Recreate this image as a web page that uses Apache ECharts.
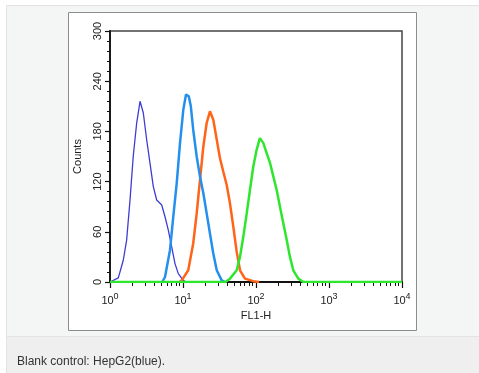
<!DOCTYPE html>
<html>
<head>
<meta charset="utf-8">
<script src="https://cdn.jsdelivr.net/npm/echarts@6/dist/echarts.min.js"></script>
<style>
html,body{margin:0;padding:0;background:#fff;}
#c{width:479px;height:373px;}
</style>
</head>
<body>
<div id="c"></div>
<script>
// ---- data ----
const xMajorTicks = [1, 10, 100, 1000, 10000];
const xMinorTicks = [2,3,4,5,6,7,8,9,20,30,40,50,60,70,80,90,200,300,400,500,600,700,800,900,2000,3000,4000,5000,6000,7000,8000,9000];

const darkBlueX = [1, 1.05, 1.3, 1.52, 1.69, 1.88, 2.08, 2.32, 2.58, 2.86, 3.18, 3.53, 3.92, 4.36, 5.11, 5.67, 6.29, 7.0, 7.77, 8.62, 10.1, 11];
const darkBlueY = [0, 0, 5, 26, 50, 98, 150, 190, 216, 202, 170, 142, 114, 98, 92, 78, 62, 42, 22, 10, 2, 0];

const lightBlueX = [5.2, 5.67, 6.63, 7.36, 8.2, 9.1, 10.1, 11.0, 12.0, 12.8, 13.8, 15.4, 17.1, 19.0, 21.1, 23.4, 26.0, 29.0, 33.9, 37.6];
const lightBlueY = [0, 6, 38, 78, 118, 166, 206, 224, 222, 210, 182, 150, 126, 106, 82, 58, 34, 14, 2, 0];

const orangeX = [9.0, 9.6, 11.8, 13.8, 15.4, 17.1, 19.0, 21.1, 23.4, 26.0, 29.0, 32.1, 35.6, 39.7, 44.0, 48.9, 54.4, 60.4, 70.6, 91.8, 110];
const orangeY = [0, 2, 14, 46, 82, 122, 162, 190, 204, 194, 170, 148, 132, 116, 94, 66, 36, 14, 4, 1, 0];

const greenX = [1, 38, 44, 54.4, 60.4, 67, 74.6, 82.7, 91.8, 102, 113, 126, 140, 156, 173, 192, 213, 237, 264, 292, 324, 380, 444, 10000];
const greenY = [0, 0, 4, 14, 30, 54, 82, 110, 138, 158, 172, 166, 154, 142, 126, 110, 90, 70, 50, 30, 14, 4, 0, 0];

const yTicks = [0, 60, 120, 180, 240, 300];
const captionText = 'Blank control: HepG2(blue).';
const xName = 'FL1-H';
const yName = 'Counts';

function pairs(xs, ys) { return xs.map((x, i) => [x, ys[i]]); }

const FONT = 'Liberation Sans, Arial, sans-serif';
const chart = echarts.init(document.getElementById('c'), null, {renderer: 'canvas'});

function lineSeries(name, xs, ys, color, width) {
  return {
    name, type: 'line', data: pairs(xs, ys), showSymbol: false, symbol: 'none',
    lineStyle: {color, width}, itemStyle: {color}, animation: false, z: 3
  };
}

chart.setOption({
  animation: false,
  backgroundColor: '#ffffff',
  title: {
    text: captionText, left: 17, top: 356, padding: 0,
    textStyle: {fontSize: 12, fontWeight: 'normal', color: '#333', fontFamily: FONT}
  },
  graphic: [
    {type: 'rect', z: -10, silent: true, shape: {x: 6.5, y: 5.5, width: 474, height: 331},
     style: {fill: '#f4f5f5', stroke: '#e3e3e3', lineWidth: 1}},
    {type: 'rect', z: -10, silent: true, shape: {x: 6.5, y: 336.5, width: 474, height: 40},
     style: {fill: '#efefef', stroke: '#e3e3e3', lineWidth: 1}},
    {type: 'rect', z: -9, silent: true, shape: {x: 68.5, y: 12.5, width: 348, height: 318},
     style: {fill: '#ffffff', stroke: '#8c8c8c', lineWidth: 1}}
  ],
  grid: {left: 110, right: 77, top: 31, bottom: 91, show: true, borderColor: '#444', borderWidth: 1.5, backgroundColor: 'transparent'},
  xAxis: [
    {
      type: 'log', logBase: 10, min: 1, max: 10000, position: 'bottom',
      name: xName, nameLocation: 'middle', nameGap: 27,
      nameTextStyle: {fontSize: 11, color: '#222', fontFamily: FONT},
      axisLine: {show: true, onZero: false, lineStyle: {color: '#111', width: 1.8}},
      axisTick: {show: true, length: 6, customValues: xMajorTicks, lineStyle: {color: '#111', width: 1.2}},
      axisLabel: {
        show: true, customValues: xMajorTicks, margin: 10, color: '#222', fontSize: 11, fontFamily: FONT,
        formatter: v => '10{s|' + Math.round(Math.log10(v)) + '}',
        rich: {s: {fontSize: 9, color: '#222', fontFamily: FONT, padding: [0, 0, 8, 0]}}
      },
      splitLine: {show: false}
    },
    {
      type: 'log', logBase: 10, min: 1, max: 10000, position: 'bottom', gridIndex: 0,
      axisLine: {show: false, onZero: false},
      axisTick: {show: true, length: 4, customValues: xMinorTicks, lineStyle: {color: '#111', width: 1}},
      axisLabel: {show: false},
      splitLine: {show: false}
    }
  ],
  yAxis: {
    type: 'value', min: 0, max: 300, interval: 60,
    name: yName, nameLocation: 'middle', nameGap: 27, nameRotate: 90,
    nameTextStyle: {fontSize: 11, color: '#222', fontFamily: FONT},
    axisLine: {show: true, onZero: false, lineStyle: {color: '#111', width: 1.8}},
    axisTick: {show: true, length: 5, lineStyle: {color: '#111', width: 1.2}},
    minorTick: {show: true, splitNumber: 5, length: 3, lineStyle: {color: '#111', width: 1}},
    axisLabel: {rotate: 90, margin: 7, color: '#222', fontSize: 11, fontFamily: FONT},
    splitLine: {show: false}
  },
  series: [
    lineSeries('blank', darkBlueX, darkBlueY, '#3d3dd4', 1.3),
    lineSeries('orange', orangeX, orangeY, '#ff6418', 2.5),
    lineSeries('lightblue', lightBlueX, lightBlueY, '#2490ee', 2.5),
    lineSeries('green', greenX, greenY, '#2ee62e', 2.5)
  ]
});
</script>
</body>
</html>
